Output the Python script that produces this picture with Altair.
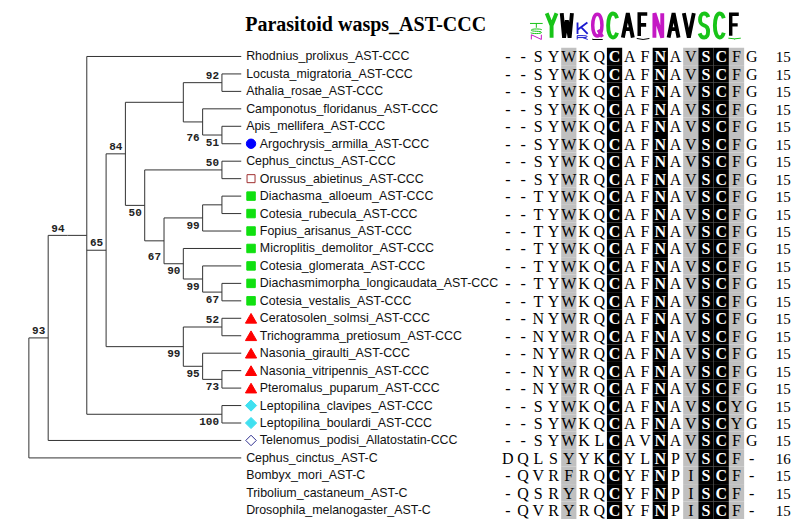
import re
import altair as alt
import pandas as pd

# ---------------- data ----------------
TITLE = "Parasitoid wasps_AST-CCC"

LEAVES = [
    "Rhodnius_prolixus_AST-CCC",
    "Locusta_migratoria_AST-CCC",
    "Athalia_rosae_AST-CCC",
    "Camponotus_floridanus_AST-CCC",
    "Apis_mellifera_AST-CCC",
    "Argochrysis_armilla_AST-CCC",
    "Cephus_cinctus_AST-CCC",
    "Orussus_abietinus_AST-CCC",
    "Diachasma_alloeum_AST-CCC",
    "Cotesia_rubecula_AST-CCC",
    "Fopius_arisanus_AST-CCC",
    "Microplitis_demolitor_AST-CCC",
    "Cotesia_glomerata_AST-CCC",
    "Diachasmimorpha_longicaudata_AST-CCC",
    "Cotesia_vestalis_AST-CCC",
    "Ceratosolen_solmsi_AST-CCC",
    "Trichogramma_pretiosum_AST-CCC",
    "Nasonia_giraulti_AST-CCC",
    "Nasonia_vitripennis_AST-CCC",
    "Pteromalus_puparum_AST-CCC",
    "Leptopilina_clavipes_AST-CCC",
    "Leptopilina_boulardi_AST-CCC",
    "Telenomus_podisi_Allatostatin-CCC",
    "Cephus_cinctus_AST-C",
    "Bombyx_mori_AST-C",
    "Tribolium_castaneum_AST-C",
    "Drosophila_melanogaster_AST-C",
]

# topology (leaf indices) with bootstrap support values
TREE = ("((((0,((((1,2)92,(3,(4,5)51)76),((6,7)50,(((8,9),10)99,(11,(12,(13,14)67)99)90)67)50)84,"
        "((15,16)52,(17,(18,19)73)95)99)65,(20,21)100))94,22)93,23),(24,(25,26)97)82)")
# label side for each support value, in post-order: a = above, b = below, l = low
BOOT_SIDE = ["a", "b", "l", "a", "b", "b", "b", "b", "l", "b", "a",
             "a", "b", "b", "b", "a", "b", "a", "a", "b", "b"]

MARKER_LEAF = [5, 7, 8, 9, 10, 11, 12, 13, 14, 15, 16, 17, 18, 19, 20, 21, 22]
MARKER_KIND = (["circle", "open_square"] + ["square"] * 7 + ["triangle"] * 5
               + ["diamond"] * 2 + ["open_diamond"])

SEQS = (["--SYWKQCAFNAVSCFG"] * 7
        + ["--SYWRQCAFNAVSCFG"]
        + ["--TYWKQCAFNAVSCFG"] * 7
        + ["--NYWRQCAFNAVSCFG"] * 5
        + ["--SYWKQCAFNAVSCYG"] * 2
        + ["--SYWKLCAVNAVSCFG",
           "DQLSYYKCYLNPVSCF-",
           "-QVRFRQCYFNPISCF-",
           "-QSRYRQCYFNPISCF-",
           "-QVRYRQCYFNPISCF-"])
SEQ_LEN = [15] * 23 + [16, 15, 15, 15]
COL_SHADE = ["", "", "", "", "gray", "", "", "black", "", "", "black", "",
             "gray", "black", "black", "gray", ""]

# sequence logo: stacks listed top to bottom, height as fraction of full column
LOGO_COL = [2, 2, 2, 3, 4, 5, 5, 6, 6, 7, 8, 9, 9, 10, 11, 12, 13, 14, 15, 15]
LOGO_LETTER = ["T", "S", "N", "Y", "W", "K", "R", "Q", "L", "C", "A", "F", "V",
               "N", "A", "V", "S", "C", "F", "Y"]
LOGO_FRAC = [0.19, 0.2, 0.2, 1, 1, 0.47, 0.17, 0.9, 0.06, 1, 1, 0.9, 0.07,
             1, 1, 1, 1, 1, 0.88, 0.08]

# ---------------- layout constants (reference pixel space) ----------------
REF_W, REF_H = 800, 527
ROW0, ROWH = 50, 18
LEAF_X, STEP = 238, 19.7
MARK_X, LABEL_X_PLAIN, LABEL_X_MARK = 248, 243, 257
COL0, COLW = 510, 15.56
COUNT_X = 791
LOGO_BASE, LOGO_FULL, LOGO_W, LOGO_DX = 33, 30, 14.5, -2
TITLE_X, TITLE_Y = 242, 18
BOOT_DY = {"a": -7, "b": 8, "l": 17}


def row_y(i):
    return ROW0 + ROWH * i


def col_x(j):
    return COL0 + COLW * j


# ---------------- tree ----------------
def parse(s, i=0):
    if s[i] == "(":
        children = []
        i += 1
        while True:
            child, i = parse(s, i)
            children.append(child)
            if s[i] == ",":
                i += 1
            else:
                i += 1
                break
        j = i
        while i < len(s) and s[i] not in ",)":
            i += 1
        return {"children": children, "boot": s[j:i]}, i
    j = i
    while i < len(s) and s[i] not in ",)":
        i += 1
    return {"leaf": int(s[j:i])}, i


root, _ = parse(TREE)
segs, boots = [], []


def layout(n):
    if "leaf" in n:
        n["h"] = 0
        n["y"] = row_y(n["leaf"])
    else:
        for c in n["children"]:
            layout(c)
        n["h"] = 1 + max(c["h"] for c in n["children"])
        ys = [c["y"] for c in n["children"]]
        n["y"] = (min(ys) + max(ys)) / 2
    n["x"] = LEAF_X - STEP * n["h"]
    if "children" in n:
        ys = [c["y"] for c in n["children"]]
        segs.append(dict(x=n["x"], x2=n["x"], y=min(ys), y2=max(ys)))
        for c in n["children"]:
            segs.append(dict(x=n["x"], x2=c["x"], y=c["y"], y2=c["y"]))
        if n["boot"]:
            boots.append(dict(node_x=n["x"], node_y=n["y"], label=n["boot"]))


layout(root)
seg_df = pd.DataFrame(segs)
boot_df = pd.DataFrame(boots)
boot_df["side"] = BOOT_SIDE[: len(boot_df)]
boot_df["x"] = boot_df["node_x"] - 3
boot_df["y"] = boot_df["node_y"] + boot_df["side"].map(BOOT_DY)

marked = set(MARKER_LEAF)
leaf_df = pd.DataFrame({
    "label": LEAVES,
    "x": [LABEL_X_MARK if i in marked else LABEL_X_PLAIN for i in range(len(LEAVES))],
    "y": [row_y(i) for i in range(len(LEAVES))],
})

STYLE = {
    "circle": ("circle", "#0000ff", "#0000ff", 88),
    "open_square": ("square", "#ffffff", "#a03030", 64),
    "square": ("square", "#10e010", "#10e010", 72),
    "triangle": ("triangle-up", "#ff0000", "#ff0000", 125),
    "diamond": ("diamond", "#40e0f0", "#40e0f0", 125),
    "open_diamond": ("diamond", "#ffffff", "#303090", 110),
}
mk_df = pd.DataFrame({
    "x": [MARK_X] * len(MARKER_LEAF),
    "y": [row_y(i) for i in MARKER_LEAF],
    "shape": [STYLE[k][0] for k in MARKER_KIND],
    "fill": [STYLE[k][1] for k in MARKER_KIND],
    "stroke": [STYLE[k][2] for k in MARKER_KIND],
    "size": [STYLE[k][3] for k in MARKER_KIND],
})

# ---------------- alignment ----------------
cells, letters = [], []
for r, seq in enumerate(SEQS):
    for j, ch in enumerate(seq):
        shade = COL_SHADE[j]
        if shade:
            cells.append(dict(x=col_x(j) - COLW / 2, x2=col_x(j) + COLW / 2,
                              y=row_y(r) - ROWH / 2, y2=row_y(r) + ROWH / 2,
                              color="#000000" if shade == "black" else "#c0c0c0"))
        letters.append(dict(x=col_x(j), y=row_y(r) + 1, ch=ch,
                            inv=(shade == "black")))
cell_df = pd.DataFrame(cells)
let_df = pd.DataFrame(letters)
cnt_df = pd.DataFrame({"x": [COUNT_X] * len(SEQ_LEN),
                       "y": [row_y(r) + 1 for r in range(len(SEQ_LEN))],
                       "t": [str(v) for v in SEQ_LEN]})

# ---------------- logo (stroke glyphs as custom symbol paths) ----------------
GLYPHS = {
    "Y": "M0.04,0.03 L0.5,0.5 L0.96,0.03 M0.5,0.5 L0.5,0.97",
    "W": "M0.02,0.03 L0.24,0.97 L0.5,0.3 L0.76,0.97 L0.98,0.03",
    "K": "M0.14,0.03 L0.14,0.97 M0.92,0.03 L0.14,0.62 M0.42,0.41 L0.94,0.97",
    "R": "M0.14,0.97 L0.14,0.04 L0.58,0.04 C0.98,0.04 0.98,0.52 0.58,0.52 L0.14,0.52 M0.55,0.52 L0.92,0.97",
    "Q": ("M0.5,0.04 C0.77,0.04 0.92,0.25 0.92,0.5 C0.92,0.75 0.77,0.96 0.5,0.96 "
          "C0.23,0.96 0.08,0.75 0.08,0.5 C0.08,0.25 0.23,0.04 0.5,0.04 Z M0.58,0.7 L0.96,1.0"),
    "C": ("M0.92,0.22 C0.84,0.1 0.7,0.04 0.54,0.04 C0.25,0.04 0.08,0.25 0.08,0.5 "
          "C0.08,0.75 0.25,0.96 0.54,0.96 C0.7,0.96 0.84,0.9 0.92,0.78"),
    "A": "M0.03,0.97 L0.5,0.03 L0.97,0.97 M0.24,0.64 L0.76,0.64",
    "F": "M0.88,0.04 L0.15,0.04 L0.15,0.97 M0.15,0.5 L0.78,0.5",
    "N": "M0.13,0.97 L0.13,0.03 L0.87,0.97 L0.87,0.03",
    "V": "M0.03,0.03 L0.5,0.97 L0.97,0.03",
    "S": ("M0.9,0.18 C0.82,0.08 0.67,0.04 0.5,0.04 C0.27,0.04 0.12,0.14 0.12,0.28 "
          "C0.12,0.44 0.3,0.47 0.5,0.5 C0.72,0.53 0.88,0.57 0.88,0.73 "
          "C0.88,0.88 0.72,0.96 0.5,0.96 C0.3,0.96 0.16,0.9 0.08,0.8"),
    "T": "M0.03,0.04 L0.97,0.04 M0.5,0.04 L0.5,0.97",
    "L": "M0.15,0.03 L0.15,0.96 L0.9,0.96",
}
CHEM = {}
for a in "GSTYC":
    CHEM[a] = "#18c418"
for a in "NQ":
    CHEM[a] = "#c418c4"
for a in "KRH":
    CHEM[a] = "#1a1ad0"
for a in "DE":
    CHEM[a] = "#e01010"


def glyph_path(ch, w, h):
    def tr(m):
        u, v = float(m.group(1)), float(m.group(2))
        return f"{(u - 0.5) * w:.2f},{(v - 0.5) * h:.2f}"
    return re.sub(r"(-?[\d.]+),(-?[\d.]+)", tr, GLYPHS[ch])


logo_rows = []
stack_bottom = {}
for idx in reversed(range(len(LOGO_COL))):
    c = LOGO_COL[idx]
    h = LOGO_FRAC[idx] * LOGO_FULL
    base = stack_bottom.get(c, LOGO_BASE)
    sw = min(3.9, max(1.0, h * 0.13))
    logo_rows.append(dict(
        x=col_x(c) + LOGO_DX, y=base - h / 2,
        path=glyph_path(LOGO_LETTER[idx], LOGO_W - sw, max(h - sw, 0.5)),
        color=CHEM.get(LOGO_LETTER[idx], "#000000"), sw=sw))
    stack_bottom[c] = base - h
logo_df = pd.DataFrame(logo_rows)

title_df = pd.DataFrame({"x": [TITLE_X], "y": [TITLE_Y], "t": [TITLE]})

# ---------------- chart ----------------
XS = alt.Scale(domain=[0, REF_W], nice=False, zero=False)
YS = alt.Scale(domain=[0, REF_H], nice=False, zero=False, reverse=True)


def X(f="x"):
    return alt.X(f"{f}:Q", scale=XS, axis=None)


def Y(f="y"):
    return alt.Y(f"{f}:Q", scale=YS, axis=None)


tree = alt.Chart(seg_df).mark_rule(color="#333333", strokeWidth=1).encode(
    x=X(), x2="x2:Q", y=Y(), y2="y2:Q")

boot = alt.Chart(boot_df).mark_text(
    font="Liberation Mono", fontSize=11, fontWeight="bold", align="right",
    baseline="middle", color="#222222").encode(x=X(), y=Y(), text="label:N")

labels = alt.Chart(leaf_df).mark_text(
    font="Liberation Sans", fontSize=12.4, align="left", baseline="middle",
    color="#111111").encode(x=X(), y=Y(), text="label:N")

markers = alt.Chart(mk_df).mark_point(filled=True, opacity=1, strokeWidth=1).encode(
    x=X(), y=Y(),
    shape=alt.Shape("shape:N", scale=None, legend=None),
    fill=alt.Fill("fill:N", scale=None, legend=None),
    stroke=alt.Stroke("stroke:N", scale=None, legend=None),
    size=alt.Size("size:Q", scale=None, legend=None))

shade = alt.Chart(cell_df).mark_rect().encode(
    x=X(), x2="x2:Q", y=Y(), y2="y2:Q",
    color=alt.Color("color:N", scale=None, legend=None))

aln_dark = alt.Chart(let_df[~let_df["inv"]]).mark_text(
    font="Liberation Serif", fontSize=16, align="center", baseline="middle",
    color="#000000").encode(x=X(), y=Y(), text="ch:N")

aln_light = alt.Chart(let_df[let_df["inv"]]).mark_text(
    font="Liberation Serif", fontSize=16, fontWeight="bold", align="center",
    baseline="middle", color="#ffffff").encode(x=X(), y=Y(), text="ch:N")

counts = alt.Chart(cnt_df).mark_text(
    font="Liberation Serif", fontSize=15, align="center", baseline="middle",
    color="#000000").encode(x=X(), y=Y(), text="t:N")

logo = alt.Chart(logo_df).mark_point(
    filled=False, opacity=1, size=4, strokeJoin="miter", strokeMiterLimit=2,
    strokeCap="butt").encode(
    x=X(), y=Y(),
    shape=alt.Shape("path:N", scale=None, legend=None),
    stroke=alt.Stroke("color:N", scale=None, legend=None),
    strokeWidth=alt.StrokeWidth("sw:Q", scale=None, legend=None))

title = alt.Chart(title_df).mark_text(
    font="Liberation Serif", fontSize=20, fontWeight="bold", align="left",
    baseline="middle", color="#000000").encode(x=X(), y=Y(), text="t:N")

chart = alt.layer(tree, boot, markers, labels, shade, aln_dark, aln_light, counts,
                  logo, title).properties(
    width=REF_W - 16, height=REF_H - 16, padding=0,
    autosize=alt.AutoSizeParams(type="none"),
    background="#ffffff",
).configure_view(stroke=None)

chart.save("out.html", embed_options={"renderer": "svg", "actions": False})
